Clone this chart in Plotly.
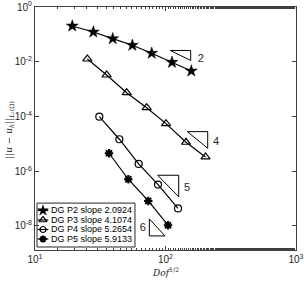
import plotly.graph_objects as go

# ---- data ----
p2_x = [19.3, 28.0, 39.4, 55.7, 78.4, 112.1, 157.7]
p2_y = [0.202, 0.122, 0.0695, 0.0399, 0.0204, 0.00955, 0.00459]
p3_x = [25.2, 35.4, 50.4, 71.8, 100.9, 143.6, 202.6]
p3_y = [0.0126, 3.28e-3, 7.40e-4, 2.09e-4, 5.46e-5, 1.14e-5, 3.31e-6]
p4_x = [31.1, 44.3, 62.3, 87.6, 124.7]
p4_y = [9.84e-5, 1.47e-5, 1.84e-6, 3.23e-7, 4.36e-8]
p5_x = [36.9, 51.9, 73.8, 104.5]
p5_y = [4.53e-6, 5.08e-7, 8.18e-8, 1.06e-8]

series_names = ["DG P2 slope 2.0924", "DG P3 slope 4.1074",
                "DG P4 slope 5.2654", "DG P5 slope 5.9133"]

# slope triangles (closed polylines) and their labels
tri2_x = [108.8, 156.0, 156.0, 108.8]
tri2_y = [0.02576, 0.02576, 0.01111, 0.02576]
tri4_x = [146.9, 210.6, 210.6, 146.9]
tri4_y = [2.79e-5, 2.79e-5, 6.89e-6, 2.79e-5]
tri5_x = [87.1, 126.2, 126.2, 87.1]
tri5_y = [7.11e-7, 7.11e-7, 1.15e-7, 7.11e-7]
tri6_x = [75.2, 75.2, 99.1, 75.2]
tri6_y = [1.80e-8, 4.31e-9, 4.31e-9, 1.80e-8]
label_text = ["2", "4", "5", "6"]
label_x = [186.1, 243.8, 146.2, 66.9]
label_y = [0.0126, 1.17e-5, 2.31e-7, 8.45e-9]

# tick labels
x_tickvals = [10, 100, 1000]
x_ticktext = ["10<sup>1</sup>", "10<sup>2</sup>", "10<sup>3</sup>"]
y_tickvals = [1e-8, 1e-6, 1e-4, 1e-2, 1]
y_ticktext = ["10<sup>-8</sup>", "10<sup>-6</sup>", "10<sup>-4</sup>",
              "10<sup>-2</sup>", "10<sup>0</sup>"]

fig = go.Figure()

markers = [
    dict(symbol="star", size=9, color="black", line=dict(color="black", width=0.5)),
    dict(symbol="triangle-up-open", size=8, color="black", line=dict(color="black", width=1.2)),
    dict(symbol="circle-open", size=7, color="black", line=dict(color="black", width=1.2)),
    dict(symbol="asterisk-open", size=7, color="black", line=dict(color="black", width=2)),
]
leg_markers = [
    dict(symbol="star", size=8, color="black", line=dict(color="black", width=0.5)),
    dict(symbol="triangle-up-open", size=7, color="black", line=dict(color="black", width=1.2)),
    dict(symbol="circle-open", size=6, color="black", line=dict(color="black", width=1.2)),
    dict(symbol="asterisk-open", size=6, color="black", line=dict(color="black", width=2)),
]

# ---- hand-made compact legend box (paper coords of plot area) ----
leg_box = dict(x0=0.0077, x1=0.383, y0=0.0123, y1=0.193)
leg_rows = [0.1626, 0.1235, 0.0844, 0.0453]
fig.add_shape(type="rect", xref="x domain", yref="y domain",
              line=dict(color="#262626", width=1), fillcolor="white", layer="below",
              **leg_box)

for xs, ys, name, mk in zip([p2_x, p3_x, p4_x, p5_x], [p2_y, p3_y, p4_y, p5_y],
                            series_names, markers):
    fig.add_trace(go.Scatter(x=xs, y=ys, mode="lines+markers", name=name, showlegend=False,
                             line=dict(color="black", width=1.2), marker=mk))

for tx, ty in [(tri2_x, tri2_y), (tri4_x, tri4_y), (tri5_x, tri5_y), (tri6_x, tri6_y)]:
    fig.add_trace(go.Scatter(x=tx, y=ty, mode="lines", showlegend=False,
                             line=dict(color="black", width=1), hoverinfo="skip"))

fig.add_trace(go.Scatter(x=label_x, y=label_y, mode="text", text=label_text,
                         showlegend=False, textfont=dict(size=11, color="#262626",
                                                         family="Liberation Sans")))

for i, (name, mk) in enumerate(zip(series_names, leg_markers)):
    ry = leg_rows[i]
    fig.add_trace(go.Scatter(x=[0.0103, 0.051], y=[ry, ry], mode="lines", xaxis="x2", yaxis="y2",
                             showlegend=False, line=dict(color="black", width=1.2),
                             hoverinfo="skip"))
    fig.add_trace(go.Scatter(x=[0.0307], y=[ry], mode="markers", xaxis="x2", yaxis="y2",
                             showlegend=False, marker=mk, hoverinfo="skip"))
    fig.add_annotation(x=0.0563, y=ry, xref="x domain", yref="y domain", text=name,
                       showarrow=False, xanchor="left", yanchor="middle", borderpad=0,
                       font=dict(family="Liberation Sans", size=9, color="black"))

# axis titles as annotations
fig.add_annotation(x=0.5, y=-0.09, xref="x domain", yref="y domain",
                   text="<i>Dof</i><sup>1/2</sup>", showarrow=False,
                   xanchor="center", yanchor="middle",
                   font=dict(family="DejaVu Serif", size=9, color="#262626"))
fig.add_annotation(x=-0.096, y=0.494, xref="x domain", yref="y domain", textangle=-90,
                   text="||<i>u</i> − <i>u<sub>h</sub></i>||<sub><i>L</i>₂(Ω)</sub>",
                   showarrow=False, xanchor="center", yanchor="middle",
                   font=dict(family="DejaVu Serif", size=9, color="#262626"))

axis_common = dict(showline=True, linecolor="#404040", linewidth=1, mirror="ticks",
                   ticks="inside", tickcolor="#404040", ticklen=4, showgrid=False,
                   zeroline=False, automargin=False,
                   tickfont=dict(family="Liberation Sans", size=10, color="#262626"))

fig.update_xaxes(type="log", range=[1, 3], tickvals=x_tickvals, ticktext=x_ticktext,
                 minor=dict(ticks="inside", ticklen=2, tickcolor="#404040", showgrid=False),
                 **axis_common)
fig.update_yaxes(type="log", range=[-8.88, 0], tickvals=y_tickvals, ticktext=y_ticktext,
                 **axis_common)

fig.update_layout(
    width=304, height=282,
    margin=dict(l=35, r=8, t=7, b=32),
    paper_bgcolor="white", plot_bgcolor="white",
    font=dict(family="Liberation Sans", color="#262626"),
    showlegend=False,
    xaxis2=dict(overlaying="x", range=[0, 1], visible=False, fixedrange=True,
                automargin=False),
    yaxis2=dict(overlaying="y", range=[0, 1], visible=False, fixedrange=True,
                automargin=False),
)

fig.write_html("out.html", config={"displayModeBar": False},
               post_script="document.body.style.margin='0';document.body.style.padding='0';")
